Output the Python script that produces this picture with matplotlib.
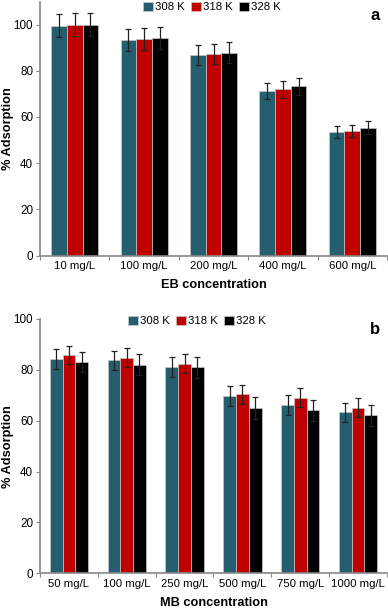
import matplotlib
matplotlib.use("Agg")
import matplotlib.pyplot as plt
import numpy as np
from matplotlib.patches import Patch

plt.rcParams['font.family'] = ['Liberation Sans', 'DejaVu Sans']

series = ["308 K", "318 K", "328 K"]
colors = ["#255E6E", "#C00000", "#000000"]

eb_cats = ["10 mg/L", "100 mg/L", "200 mg/L", "400 mg/L", "600 mg/L"]
eb_308 = [99.6, 93.4, 86.9, 71.1, 53.4]
eb_318 = [100.0, 93.7, 87.4, 71.9, 53.9]
eb_328 = [100.0, 94.1, 87.9, 73.3, 55.3]
eb_err_308 = [5.0, 4.7, 4.3, 3.5, 2.7]
eb_err_318 = [5.0, 4.7, 4.3, 3.6, 2.7]
eb_err_328 = [5.0, 4.7, 4.4, 3.6, 2.8]

mb_cats = ["50 mg/L", "100 mg/L", "250 mg/L", "500 mg/L", "750 mg/L", "1000 mg/L"]
mb_308 = [84.3, 83.7, 81.2, 69.6, 66.3, 63.3]
mb_318 = [85.8, 84.8, 82.5, 70.4, 69.0, 65.1]
mb_328 = [83.1, 82.0, 81.0, 65.0, 64.1, 62.2]
mb_err_308 = [3.9, 3.8, 3.9, 3.9, 4.0, 3.8]
mb_err_318 = [3.6, 3.8, 3.6, 3.8, 3.7, 3.8]
mb_err_328 = [3.8, 4.1, 4.1, 4.2, 4.2, 4.1]

W, H = 388, 612
fig = plt.figure(figsize=(W / 100, H / 100), dpi=100)

def panel(rect, cats, vals, errs, ymax, xlabel, group_w, leg_center):
    ax = fig.add_axes(rect)
    n = len(cats)
    x = np.arange(n)
    bw = group_w / 3
    for i, (v, e, c) in enumerate(zip(vals, errs, colors)):
        ax.bar(x + (i - 1) * bw, v, width=bw, color=c, edgecolor="#c8c8c8",
               linewidth=0.5, zorder=2)
        ax.errorbar(x + (i - 1) * bw, v, yerr=e, fmt="none", ecolor="#222222",
                    elinewidth=0.9, capsize=2.2, capthick=0.9, zorder=3)
    ax.set_xlim(-0.5, n - 0.5)
    ax.set_ylim(0, ymax)
    ax.set_yticks([0, 20, 40, 60, 80, 100])
    ax.set_xticks(np.arange(n + 1) - 0.5)
    ax.set_xticklabels([])
    ax.set_xticks(x, minor=True)
    ax.set_xticklabels(cats, minor=True, fontsize=8.2)
    ax.tick_params(axis="x", which="minor", length=0, pad=4)
    ax.tick_params(axis="x", which="major", length=3, color="#888888", direction="out")
    ax.tick_params(axis="y", length=3, color="#888888", labelsize=8.4, pad=2)
    for s in ["top", "right"]:
        ax.spines[s].set_visible(False)
    for s in ["left", "bottom"]:
        ax.spines[s].set_color("#888888")
        ax.spines[s].set_linewidth(1.2)
    ax.set_ylabel("% Adsorption", fontsize=9.2, fontweight="bold")
    ax.yaxis.set_label_coords(-26 / 347, 0.5)
    ax.set_xlabel(xlabel, fontsize=9.2, fontweight="bold", labelpad=6)
    handles = [Patch(facecolor=c, edgecolor="#c8c8c8", linewidth=0.5) for c in colors]
    ax.legend(handles, series, ncol=3, frameon=False, fontsize=8.2,
              loc="center", bbox_to_anchor=leg_center, bbox_transform=fig.transFigure,
              handlelength=0.9, handleheight=0.9, handletextpad=0.2, columnspacing=0.5)
    return ax

ax1 = panel([40 / W, 1 - 255.5 / H, 347 / W, 254 / H], eb_cats,
            [eb_308, eb_318, eb_328], [eb_err_308, eb_err_318, eb_err_328],
            110, "EB concentration", 0.68, (212 / W, 1 - 7 / H))
fig.text(375 / W, 1 - 16 / H, "a", fontsize=12, fontweight="bold", ha="center", va="center")

ax2 = panel([40 / W, 1 - 573.3 / H, 347 / W, 254.3 / H], mb_cats,
            [mb_308, mb_318, mb_328], [mb_err_308, mb_err_318, mb_err_328],
            100, "MB concentration", 0.66, (197 / W, 1 - 321 / H))
fig.text(375 / W, 1 - 330 / H, "b", fontsize=12, fontweight="bold", ha="center", va="center")

fig.savefig("out.png", dpi=100)
